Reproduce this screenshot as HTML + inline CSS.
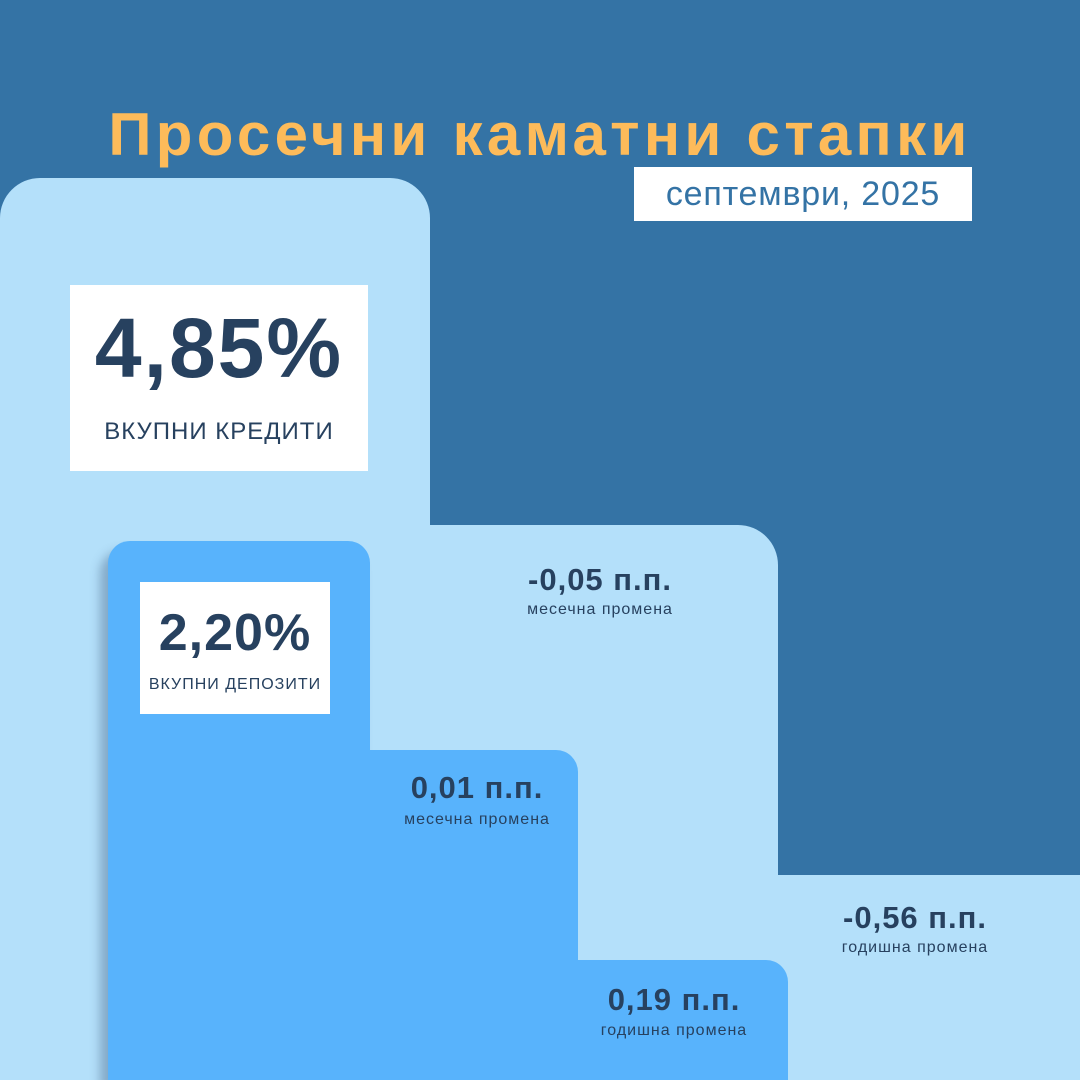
<!DOCTYPE html>
<html style="margin:0;width:1080px;height:1080px;overflow:hidden;"><head><meta charset="utf-8"><style>
body{margin:0;width:1080px;height:1080px;overflow:hidden;background:#3473a5;position:relative;font-family:"Liberation Sans","DejaVu Sans",sans-serif;}
div{position:absolute;}
.l{background:#b4e0fa;}
.m{background:#58b3fc;}
.t{color:#27415f;text-align:center;}
.big{font-weight:bold;letter-spacing:1px;}
.s{letter-spacing:1px;}
</style></head><body>
<div class="l" style="left:0;top:178px;width:430px;height:902px;border-radius:40px 40px 0 0;"></div>
<div class="l" style="left:380px;top:525px;width:398px;height:555px;border-radius:0 40px 0 0;"></div>
<div class="l" style="left:700px;top:875px;width:380px;height:205px;"></div>
<div class="m" style="left:108px;top:541px;width:262px;height:539px;border-radius:22px 22px 0 0;box-shadow:-8px 10px 10px rgba(40,70,110,0.35);"></div>
<div class="m" style="left:330px;top:750px;width:248px;height:330px;border-radius:0 22px 0 0;"></div>
<div class="m" style="left:540px;top:960px;width:248px;height:120px;border-radius:0 22px 0 0;"></div>
<div style="left:0;top:100px;width:1080px;text-align:center;color:#fdbb5a;font-weight:bold;font-size:60px;letter-spacing:4.3px;">Просечни каматни стапки</div>
<div style="left:634px;top:167px;width:338px;height:54px;background:#fff;color:#3473a5;font-size:34px;line-height:54px;text-align:center;letter-spacing:0.8px;">септември, 2025</div>
<div style="left:70px;top:285px;width:298px;height:186px;background:#fff;"></div>
<div class="t big" style="left:70px;top:300px;width:298px;font-size:84px;letter-spacing:2px;">4,85%</div>
<div class="t s" style="left:70px;top:418px;width:298px;font-size:24px;">ВКУПНИ КРЕДИТИ</div>
<div style="left:140px;top:582px;width:190px;height:132px;background:#fff;"></div>
<div class="t big" style="left:140px;top:603px;width:190px;font-size:52px;">2,20%</div>
<div class="t s" style="left:140px;top:676px;width:190px;font-size:16px;">ВКУПНИ ДЕПОЗИТИ</div>
<div class="t big" style="left:500px;top:562px;width:200px;font-size:31px;">-0,05 п.п.</div>
<div class="t s" style="left:500px;top:601px;width:200px;font-size:16px;">месечна промена</div>
<div class="t big" style="left:377px;top:770px;width:200px;font-size:31px;">0,01 п.п.</div>
<div class="t s" style="left:377px;top:811px;width:200px;font-size:16px;">месечна промена</div>
<div class="t big" style="left:815px;top:900px;width:200px;font-size:31px;">-0,56 п.п.</div>
<div class="t s" style="left:815px;top:939px;width:200px;font-size:16px;">годишна промена</div>
<div class="t big" style="left:574px;top:982px;width:200px;font-size:31px;">0,19 п.п.</div>
<div class="t s" style="left:574px;top:1022px;width:200px;font-size:16px;">годишна промена</div>
</body></html>
